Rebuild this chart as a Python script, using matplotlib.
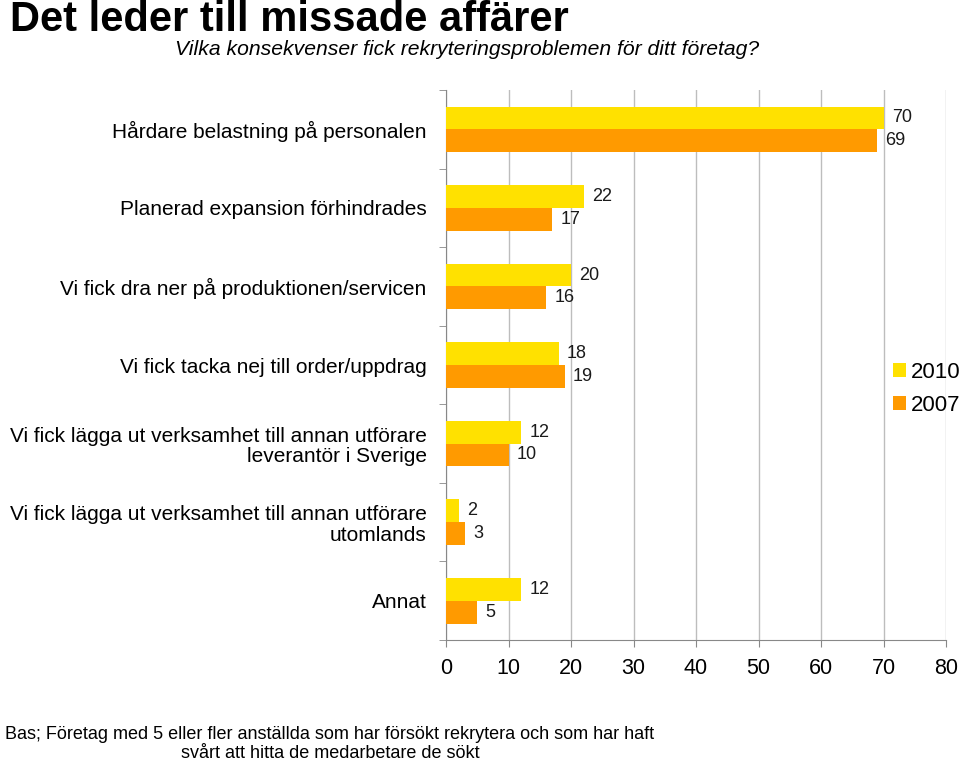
import matplotlib
matplotlib.use("Agg")
import matplotlib.pyplot as plt
import numpy as np

plt.rcParams['font.family'] = ['Liberation Sans', 'DejaVu Sans']

categories = [
    "Hårdare belastning på personalen",
    "Planerad expansion förhindrades",
    "Vi fick dra ner på produktionen/servicen",
    "Vi fick tacka nej till order/uppdrag",
    "Vi fick lägga ut verksamhet till annan utförare\nleverantör i Sverige",
    "Vi fick lägga ut verksamhet till annan utförare\nutomlands",
    "Annat",
]
values_2010 = [70, 22, 20, 18, 12, 2, 12]
values_2007 = [69, 17, 16, 19, 10, 3, 5]
series_labels = ["2010", "2007"]
x_ticks = [0, 10, 20, 30, 40, 50, 60, 70, 80]

yellow = '#FFE100'
orange = '#FF9A00'

fig = plt.figure(figsize=(9.6, 7.62), dpi=100)
ax = fig.add_axes([446/960, 1-640/762, 500/960, 550/762])

n = len(categories)
y = np.arange(n)
h = 0.29
b1 = ax.barh(y - h/2, values_2010, height=h, color=yellow, zorder=3)
b2 = ax.barh(y + h/2, values_2007, height=h, color=orange, zorder=3)

for bars, vals in ((b1, values_2010), (b2, values_2007)):
    for rect, v in zip(bars, vals):
        ax.annotate(str(v), (rect.get_width(), rect.get_y() + rect.get_height()/2),
                    xytext=(6, 0), textcoords='offset points', va='center', ha='left',
                    fontsize=13, color='#1a1a1a')

ax.set_xlim(0, 80)
ax.set_ylim(n - 0.5, -0.5)
ax.set_xticks(x_ticks)
ax.set_xticklabels([str(t) for t in x_ticks], fontsize=15.5)
ax.set_yticks(y)
ax.set_yticklabels(categories, fontsize=15, linespacing=1.1)
ax.set_yticks(np.arange(n + 1) - 0.5, minor=True)
ax.tick_params(axis='y', which='major', length=0, pad=14)
ax.tick_params(axis='y', which='minor', length=5, color='#888888')
ax.tick_params(axis='x', which='major', length=5, color='#888888', pad=8)
ax.grid(axis='x', color='#BDBDBD', linewidth=1, zorder=0)
for s in ['top', 'right']:
    ax.spines[s].set_visible(False)
for s in ['left', 'bottom']:
    ax.spines[s].set_color('#888888')

fig.legend([b1, b2], series_labels, loc='center left', bbox_to_anchor=(893/960, 1-389/762),
           frameon=False, fontsize=16, handlelength=0.6, handleheight=0.6,
           handletextpad=0.2, labelspacing=0.55, borderpad=0, borderaxespad=0)

fig.text(10/960, 1-31/762, "Det leder till missade affärer", fontsize=30, fontweight='bold',
         ha='left', va='baseline')
fig.text(175/960, 1-55/762, "Vilka konsekvenser fick rekryteringsproblemen för ditt företag?",
         fontsize=15.2, style='italic', ha='left', va='baseline')
fig.text(330/960, 1-739/762,
         "Bas; Företag med 5 eller fler anställda som har försökt rekrytera och som har haft",
         fontsize=13, ha='center', va='baseline')
fig.text(330/960, 1-758/762, "svårt att hitta de medarbetare de sökt",
         fontsize=13, ha='center', va='baseline')

fig.savefig("out.png", dpi=100)
